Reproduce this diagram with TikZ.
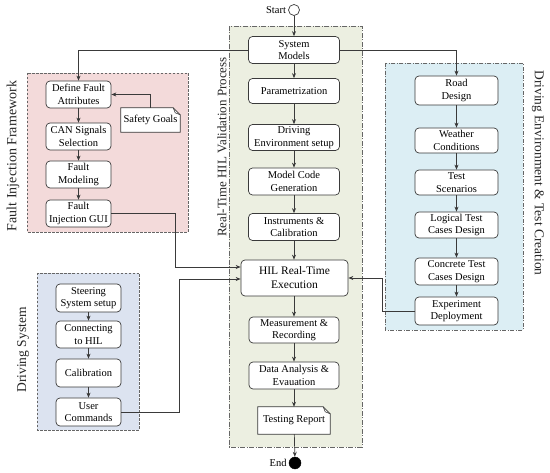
\documentclass[tikz,border=0pt]{standalone}
\usepackage{fontspec}
\setmainfont{Liberation Serif}
\usetikzlibrary{arrows.meta,calc}
\definecolor{edge}{HTML}{3A3A3A}
\definecolor{frame}{HTML}{666666}
\definecolor{greenfill}{HTML}{ECEFE1}
\definecolor{pinkfill}{HTML}{F3DADA}
\definecolor{bluefill}{HTML}{DCE3F0}
\definecolor{cyanfill}{HTML}{DCEEF4}
\tikzset{
  stepbox/.style={draw=edge, fill=white, rounded corners=4pt, line width=0.7pt,
    align=center, inner sep=1pt, font=\fontsize{10.5}{12.5}\selectfont},
  docbox/.style={inner sep=1pt, align=center, font=\fontsize{10.5}{12.5}\selectfont},
  arr/.style={draw=edge, line width=0.7pt, -{Stealth[length=5pt,width=4pt]}},
  plainline/.style={draw=edge, line width=0.7pt},
  grp/.style={line width=0.6pt, draw=frame},
  sidelabel/.style={text=black!85}
}
\begin{document}
\begin{tikzpicture}[x=1pt,y=-1pt]
\useasboundingbox (0,0) rectangle (550,473);
% group frames
\fill[greenfill] (229,26) rectangle (362,447);
\draw[grp, dash pattern=on 5pt off 1.5pt on 1pt off 1.5pt] (229,26) rectangle (362,447);
\fill[pinkfill] (27,73) rectangle (188,232);
\draw[grp, dash pattern=on 2.5pt off 1.5pt] (27,73) rectangle (188,232);
\fill[bluefill] (37,273) rectangle (139,430);
\draw[grp, dash pattern=on 2.5pt off 1.5pt] (37,273) rectangle (139,430);
\fill[cyanfill] (385,63) rectangle (523,330);
\draw[grp, dash pattern=on 4pt off 1.5pt on 1pt off 1.5pt] (385,63) rectangle (523,330);

% side labels
\node[sidelabel, rotate=90, font=\fontsize{14}{16}\selectfont] (lblFI) at (13,156) {Fault Injection Framework};
\node[sidelabel, rotate=90, font=\fontsize{13}{15}\selectfont] (lblRT) at (222,147) {Real-Time HIL Validation Process};
\node[sidelabel, rotate=-90, font=\fontsize{13.5}{15}\selectfont] (lblDE) at (538,173) {Driving Environment \& Test Creation};
\node[sidelabel, rotate=90, font=\fontsize{13.5}{15}\selectfont] (lblDS) at (23,350) {Driving System};

% start / end
\node[circle, draw=edge, fill=white, line width=0.7pt, minimum size=11pt, inner sep=0pt] (start) at (294,10) {};
\node[anchor=east, font=\fontsize{10.5}{12.5}\selectfont, inner sep=2pt] (starttxt) at (start.west) {Start};
\node[circle, draw=black, fill=black, minimum size=12pt, inner sep=0pt] (end) at (295,463) {};
\node[anchor=east, font=\fontsize{10.5}{12.5}\selectfont, inner sep=2pt] (endtxt) at (end.west) {End};

% central column
\node[stepbox, minimum width=91pt, minimum height=27pt] (SM) at (294,50) {System\\Models};
\node[stepbox, minimum width=91pt, minimum height=25pt] (PAR) at (294,91) {Parametrization};
\node[stepbox, minimum width=91pt, minimum height=26pt] (DES) at (294,137.5) {Driving\\Environment setup};
\node[stepbox, minimum width=91pt, minimum height=27pt] (MCG) at (294,181.5) {Model Code\\Generation};
\node[stepbox, minimum width=91pt, minimum height=27pt] (INS) at (294,227) {Instruments \&\\Calibration};
\node[stepbox, minimum width=107pt, minimum height=36pt, font=\fontsize{11.5}{14}\selectfont] (HIL) at (294.5,278) {HIL Real-Time\\Execution};
\node[stepbox, minimum width=90pt, minimum height=26pt] (MR) at (294,330) {Measurement \&\\Recording};
\node[stepbox, minimum width=90pt, minimum height=27pt] (DA) at (294,375.5) {Data Analysis \&\\Evauation};
\node[docbox, minimum width=72pt, minimum height=27pt] (TR) at (294,420.5) {Testing Report};
\draw[edge, fill=white, line width=0.7pt] (TR.south west) -- (TR.north west) -- ($(TR.north east)+(-7,0)$) -- ($(TR.north east)+(0,7)$) -- (TR.south east) -- cycle;
\draw[edge, line width=0.6pt] ($(TR.north east)+(-7,0)$) -- ($(TR.north east)+(-5,5)$) -- ($(TR.north east)+(0,7)$);
\node[docbox, minimum width=72pt, minimum height=27pt] at (TR) {Testing Report};

% fault injection
\node[stepbox, minimum width=65pt, minimum height=27pt] (DFA) at (78.5,94.5) {Define Fault\\Attributes};
\node[stepbox, minimum width=65pt, minimum height=27pt] (CAN) at (78.5,136.5) {CAN Signals\\Selection};
\node[stepbox, minimum width=65pt, minimum height=27pt] (FM) at (78.5,174.5) {Fault\\Modeling};
\node[stepbox, minimum width=65pt, minimum height=27pt] (FIG) at (78.5,213.5) {Fault\\Injection GUI};
\node[docbox, minimum width=59pt, minimum height=24pt] (SG) at (150.5,120) {Safety Goals};
\draw[edge, fill=white, line width=0.7pt] (SG.south west) -- (SG.north west) -- ($(SG.north east)+(-7,0)$) -- ($(SG.north east)+(0,7)$) -- (SG.south east) -- cycle;
\draw[edge, line width=0.6pt] ($(SG.north east)+(-7,0)$) -- ($(SG.north east)+(-5,5)$) -- ($(SG.north east)+(0,7)$);
\node[docbox, minimum width=59pt, minimum height=24pt] at (SG) {Safety Goals};

% driving system
\node[stepbox, minimum width=65pt, minimum height=28pt] (SSS) at (88.5,298) {Steering\\System setup};
\node[stepbox, minimum width=65pt, minimum height=27pt] (CH) at (88.5,334.5) {Connecting\\to HIL};
\node[stepbox, minimum width=65pt, minimum height=28pt] (CAL) at (88.5,373) {Calibration};
\node[stepbox, minimum width=65pt, minimum height=28pt] (UC) at (88.5,412) {User\\Commands};

% driving environment
\node[stepbox, minimum width=83pt, minimum height=29pt] (RD) at (456.5,90.5) {Road\\Design};
\node[stepbox, minimum width=83pt, minimum height=25pt] (WC) at (456.5,140.5) {Weather\\Conditions};
\node[stepbox, minimum width=83pt, minimum height=25pt] (TS) at (456.5,182.5) {Test\\Scenarios};
\node[stepbox, minimum width=83pt, minimum height=26pt] (LTC) at (456.5,225) {Logical Test\\Cases Design};
\node[stepbox, minimum width=83pt, minimum height=27pt] (CTC) at (456.5,271.5) {Concrete Test\\Cases Design};
\node[stepbox, minimum width=83pt, minimum height=28pt] (ED) at (456.5,311) {Experiment\\Deployment};

% central arrows
\draw[arr] (start) -- (SM);
\draw[arr] (SM) -- (PAR);
\draw[arr] (PAR) -- (DES);
\draw[arr] (DES) -- (MCG);
\draw[arr] (MCG) -- (INS);
\draw[arr] (INS) -- (HIL.north -| INS);
\draw[arr] (HIL.south -| MR) -- (MR);
\draw[arr] (MR) -- (DA);
\draw[arr] (DA) -- (TR);
\draw[arr] (TR) -- (end);

% branches from system models
\draw[arr] (SM.west) -| (DFA.north);
\draw[arr] (SM.east) -| (RD.north);

% fault injection chain
\draw[arr] (DFA) -- (CAN);
\draw[arr] (CAN) -- (FM);
\draw[arr] (FM) -- (FIG);
\draw[arr] (SG.north) |- (DFA.east);
\draw[arr] (FIG.east) -| ($(HIL.west)+(-65,-11)$) -- ($(HIL.west)+(0,-11)$);

% driving system chain
\draw[arr] (SSS) -- (CH);
\draw[arr] (CH) -- (CAL);
\draw[arr] (CAL) -- (UC);
\draw[arr] (UC.east) -| ($(HIL.west)+(-61,1)$) -- ($(HIL.west)+(0,1)$);

% driving environment chain
\draw[arr] (RD) -- (WC);
\draw[arr] (WC) -- (TS);
\draw[arr] (TS) -- (LTC);
\draw[arr] (LTC) -- (CTC);
\draw[arr] (CTC) -- (ED);
\draw[arr] (ED.west) -| ($(HIL.east)+(34,0)$) -- (HIL.east);
\end{tikzpicture}
\end{document}
